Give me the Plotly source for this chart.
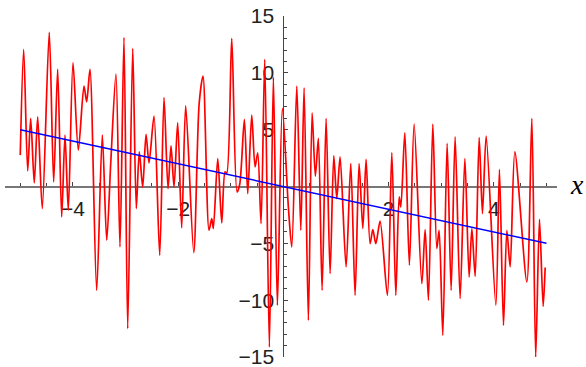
import plotly.graph_objects as go

# Red oscillating curve (extrema)
curve_x = [-5.0, -4.935, -4.859, -4.802, -4.734, -4.669, -4.582, -4.449, -4.365, -4.289,
           -4.213, -4.150, -4.087, -3.998, -3.897, -3.789, -3.738, -3.675, -3.548, -3.441,
           -3.357, -3.281, -3.181, -3.105, -3.029, -2.958, -2.863, -2.795, -2.738, -2.673,
           -2.610, -2.553, -2.458, -2.350, -2.268, -2.192, -2.135, -2.078, -2.008, -1.932,
           -1.856, -1.703, -1.600, -1.527, -1.413, -1.361, -1.331, -1.247, -1.171, -1.108,
           -1.076, -0.981, -0.880, -0.829, -0.741, -0.677, -0.601, -0.538, -0.487, -0.424,
           -0.354, -0.266, -0.190, -0.114, -0.019, 0.095, 0.160, 0.255, 0.331, 0.394,
           0.475, 0.546, 0.608, 0.665, 0.736, 0.812, 0.888, 0.958, 1.015, 1.078,
           1.192, 1.281, 1.363, 1.439, 1.510, 1.572, 1.648, 1.700, 1.757, 1.838,
           1.977, 2.061, 2.137, 2.200, 2.232, 2.308, 2.395, 2.485, 2.631, 2.694,
           2.757, 2.840, 2.916, 2.960, 3.030, 3.112, 3.188, 3.264, 3.359, 3.449,
           3.530, 3.582, 3.645, 3.721, 3.783, 3.854, 4.038, 4.106, 4.183, 4.247,
           4.310, 4.399, 4.627, 4.722, 4.795, 4.867, 4.937, 4.975]
curve_y = [2.76, 12.06, 1.37, 5.99, 0.32, 6.13, -1.94, 13.56, 0.40, 10.33,
           -2.68, 4.52, -2.09, 10.88, 3.20, 8.83, 7.45, 10.30, -9.13, 4.52,
           -4.73, 2.02, 9.89, -5.32, 13.12, -12.50, 12.15, -1.94, 3.05, -0.04,
           4.58, 2.08, 6.19, -6.05, 7.83, -0.18, 3.57, -0.04, 5.63, -3.64,
           7.10, -5.81, 7.30, 9.71, -3.85, -2.82, -3.70, 2.46, -3.20, 1.29,
           1.17, 13.03, -0.48, 0.20, 5.90, -0.62, 6.28, 1.73, 2.96, -3.26,
           11.18, -14.12, 9.62, -10.45, 6.87, -1.80, -5.32, 8.83, -3.85, 8.68,
           -11.77, 6.48, 0.91, 4.23, -9.13, 5.99, -7.66, 2.69, -1.06, 2.61,
           -7.08, 2.02, -9.57, 2.02, -3.70, 2.38, -5.02, -3.79, -5.02, -3.05,
           -9.57, 2.99, -9.57, -0.92, -1.80, 4.72, -6.93, 5.48, -8.54, -3.79,
           -10.01, 5.48, -5.46, -3.85, -13.09, 3.79, -9.13, 4.37, -9.86, 2.46,
           -7.96, -3.70, -7.90, 4.31, -2.38, 4.43, -10.45, 1.50, -12.21, -3.85,
           -7.08, 3.05, -8.40, 5.99, -15.0, -2.90, -10.54, -7.13]

# Blue straight line y = -x
line_x = [-5, 5]
line_y = [5, -5]

# Ticks
x_tickvals = [-4, -2, 2, 4]
x_ticktext = ["\u22124", "\u22122", "2", "4"]
x_minor = [-5, -4.5, -3.5, -3, -2.5, -1.5, -1, -0.5, 0.5, 1, 1.5, 2.5, 3, 3.5, 4.5, 5]
y_tickvals = [-15, -10, -5, 5, 10, 15]
y_ticktext = ["\u221215", "\u221210", "\u22125", "5", "10", "15"]
y_minor = [-14, -13, -12, -11, -9, -8, -7, -6, -4, -3, -2, -1,
           1, 2, 3, 4, 6, 7, 8, 9, 11, 12, 13, 14]

x_range = [-5.29, 5.2]
y_range = [-15, 15]

fig = go.Figure()
fig.add_trace(go.Scatter(x=curve_x, y=curve_y, mode="lines",
                         line=dict(color="#ff0000", width=1.7, shape="spline", smoothing=0.8),
                         hoverinfo="skip", showlegend=False))
fig.add_trace(go.Scatter(x=line_x, y=line_y, mode="lines",
                         line=dict(color="#0000ff", width=1.5),
                         hoverinfo="skip", showlegend=False))

tick_font = dict(family="Liberation Sans, Arial, sans-serif", size=21, color="#222222")

fig.update_layout(
    width=586, height=367, autosize=False,
    margin=dict(l=5, r=29, t=16, b=10, pad=0, autoexpand=False),
    paper_bgcolor="white", plot_bgcolor="white",
    showlegend=False,
    xaxis=dict(range=x_range, anchor="free", position=0.5, side="bottom",
               automargin=False, ticklabeloverflow="allow",
               showgrid=False, zeroline=False,
               showline=True, linecolor="#777777", linewidth=1.5,
               tickmode="array", tickvals=x_tickvals, ticktext=x_ticktext,
               ticks="inside", ticklen=4, tickwidth=1, tickcolor="#444444",
               tickfont=tick_font, ticklabelstandoff=4,
               minor=dict(tickmode="array", tickvals=x_minor, ticks="inside",
                          ticklen=3, tickwidth=1, tickcolor="#444444", showgrid=False),
               layer="below traces", fixedrange=True),
    yaxis=dict(range=y_range, anchor="free",
               position=(0 - x_range[0]) / (x_range[1] - x_range[0]), side="left",
               automargin=False, ticklabeloverflow="allow",
               showgrid=False, zeroline=False,
               showline=True, linecolor="#444444", linewidth=1,
               tickmode="array", tickvals=y_tickvals, ticktext=y_ticktext,
               ticks="inside", ticklen=4, tickwidth=1, tickcolor="#444444",
               tickfont=tick_font, ticklabelstandoff=5,
               minor=dict(tickmode="array", tickvals=y_minor, ticks="inside",
                          ticklen=3, tickwidth=1, tickcolor="#444444", showgrid=False),
               layer="below traces", fixedrange=True),
    annotations=[dict(text="<i>x</i>", xref="paper", yref="y", x=1.0, y=0,
                      xanchor="left", yanchor="middle", xshift=11, yshift=2, showarrow=False,
                      font=dict(family="Liberation Serif, Times New Roman, serif",
                                size=28, color="#000000"))],
)

fig.write_html("out.html", config={"displayModeBar": False},
               post_script="document.body.style.margin='0';document.body.style.overflow='hidden';")
